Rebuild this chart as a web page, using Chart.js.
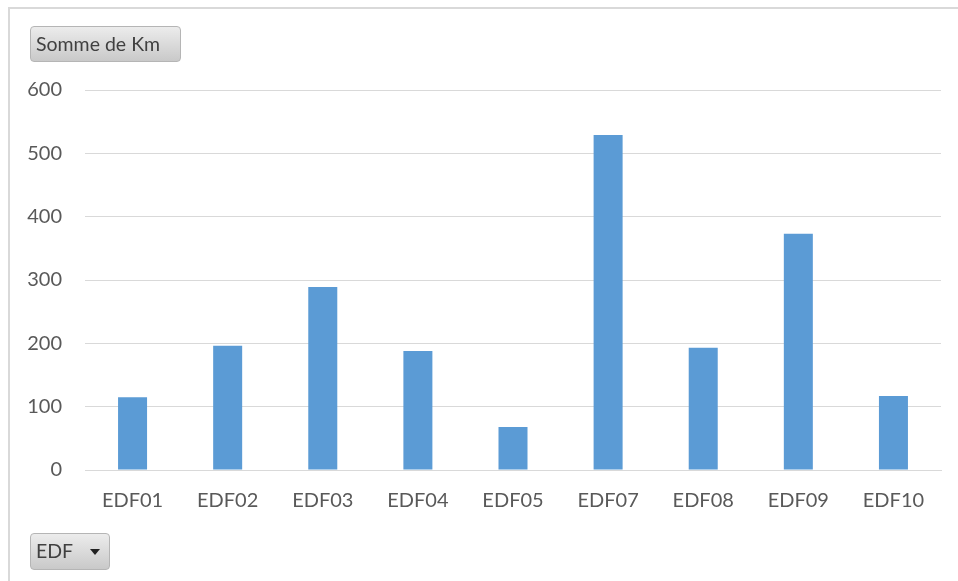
<!DOCTYPE html>
<html lang="fr">
<head>
<meta charset="UTF-8">
<title>Somme de Km par EDF</title>
<script src="https://cdn.jsdelivr.net/npm/chart.js"></script>
<style>
  body { margin: 0; background: #fff; font-family: Lato, "Open Sans", sans-serif; }
  .frame {
    position: absolute; left: 8px; top: 7px; width: 960px; height: 590px;
    border: 2px solid #d9d9d9; box-sizing: border-box;
  }
  .wrap { position: absolute; left: 0; top: 0; width: 958px; height: 581px; }
  .btn {
    position: absolute; box-sizing: border-box;
    border: 1px solid #b5b5b5; border-radius: 4px;
    background: linear-gradient(#ececec, #c9c9c9);
    color: #404040; font-size: 19.5px; line-height: 34px; padding-left: 5px;
  }
  .btn .arrow {
    position: absolute; right: 9px; top: 15px; width: 0; height: 0;
    border-left: 5px solid transparent; border-right: 5px solid transparent;
    border-top: 6px solid #222;
  }
</style>
</head>
<body>
<div class="frame"></div>
<div class="wrap"><canvas id="kmChart" width="958" height="581"></canvas></div>
<div class="btn" style="left:30px; top:26px; width:151px; height:36px;">Somme de Km</div>
<div class="btn" style="left:30px; top:533px; width:80px; height:37px;">EDF<span class="arrow"></span></div>
<script>
const categories = ['EDF01', 'EDF02', 'EDF03', 'EDF04', 'EDF05', 'EDF07', 'EDF08', 'EDF09', 'EDF10'];
const kmValues = [115, 196, 289, 188, 68, 529, 193, 373, 117];
const yTicks = [0, 100, 200, 300, 400, 500, 600];

const ctx = document.getElementById('kmChart').getContext('2d');
new Chart(ctx, {
  type: 'bar',
  data: {
    labels: categories,
    datasets: [{
      label: 'Somme de Km',
      data: kmValues,
      backgroundColor: '#5b9bd5',
      borderWidth: 0,
      categoryPercentage: 1,
      barPercentage: 0.305
    }]
  },
  options: {
    responsive: false,
    animation: false,
    layout: { padding: { top: 90, right: 17, bottom: 51, left: 0 } },
    plugins: { legend: { display: false }, tooltip: { enabled: false } },
    scales: {
      x: {
        grid: { display: false },
        border: { color: '#d9d9d9', width: 1 },
        ticks: { color: '#595959', font: { family: 'Lato', size: 20 }, padding: 11, maxRotation: 0 },
        afterFit: s => { s.height = 60; }
      },
      y: {
        min: 0, max: 600,
        afterBuildTicks: s => { s.ticks = yTicks.map(v => ({ value: v })); },
        grid: { color: '#d9d9d9', lineWidth: 1, drawTicks: false },
        border: { display: false },
        ticks: { color: '#595959', font: { family: 'Lato', size: 20 }, padding: 23 },
        afterFit: s => { s.width = 85; }
      }
    }
  }
});
</script>
</body>
</html>
